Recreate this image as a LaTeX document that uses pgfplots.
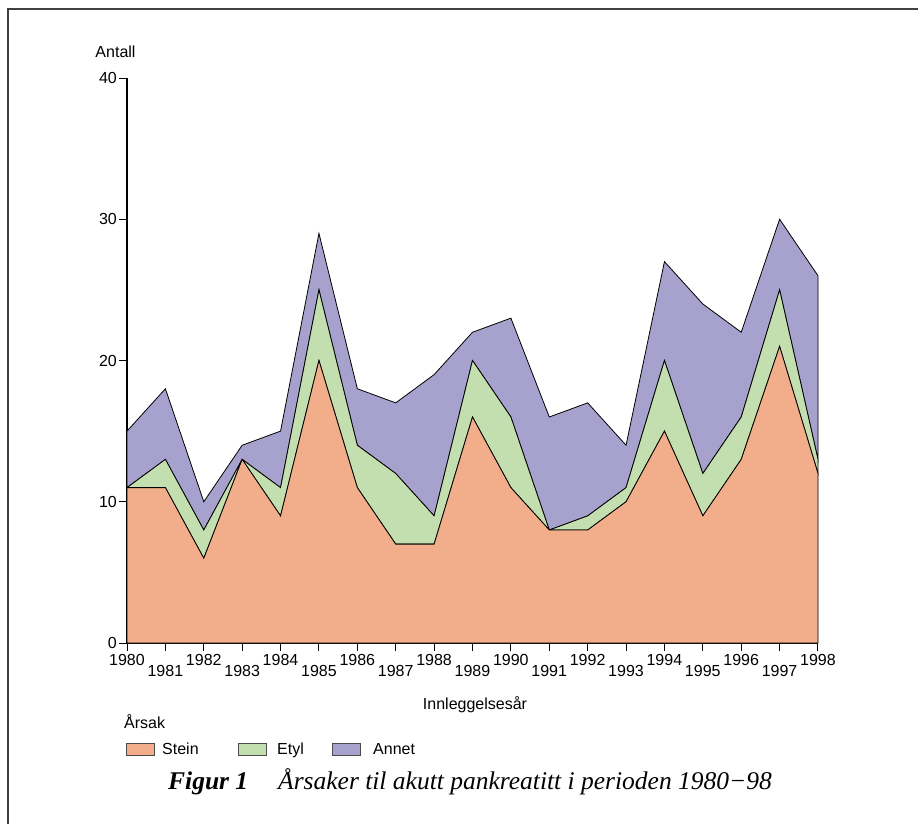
\documentclass[border=0pt]{standalone}
\usepackage{pgfplots}
\pgfplotsset{compat=1.18}
\usepackage{fontspec}
\setmainfont{Liberation Sans}
\newfontfamily\capfont{Liberation Serif}
\definecolor{stein}{HTML}{F2AE8A}
\definecolor{etyl}{HTML}{C4DFAF}
\definecolor{annet}{HTML}{A7A2CD}
\begin{document}
\begin{tikzpicture}[x=1pt,y=1pt]
\useasboundingbox (-127,-180) rectangle (791,643);
\begin{axis}[
  at={(0,0)}, anchor=south west,
  scale only axis, width=691pt, height=565pt,
  xmin=1980, xmax=1998, ymin=0, ymax=40,
  axis x line*=bottom, axis y line*=left,
  axis line style={line width=1.3pt},
  tick align=outside, major tick length=8pt,
  tick style={line width=0.9pt, black},
  xtick={1980,...,1998},
  xticklabels={1980,\raisebox{-11pt}{1981},1982,\raisebox{-11pt}{1983},1984,\raisebox{-11pt}{1985},1986,\raisebox{-11pt}{1987},1988,\raisebox{-11pt}{1989},1990,\raisebox{-11pt}{1991},1992,\raisebox{-11pt}{1993},1994,\raisebox{-11pt}{1995},1996,\raisebox{-11pt}{1997},1998},
  ytick={0,10,20,30,40},
  /pgf/number format/assume math mode=true,
  ticklabel style={font=\fontsize{16}{19}\selectfont},
  xticklabel style={inner sep=0pt, text height=11.5pt, text depth=0pt, yshift=-3pt},
  yticklabel style={inner sep=2pt},
  stack plots=y,
  every axis plot/.append style={draw=black, line width=0.8pt},
  clip=false,
]
\addplot[fill=stein] coordinates {(1980,11)(1981,11)(1982,6)(1983,13)(1984,9)(1985,20)(1986,11)(1987,7)(1988,7)(1989,16)(1990,11)(1991,8)(1992,8)(1993,10)(1994,15)(1995,9)(1996,13)(1997,21)(1998,12)} \closedcycle;
\addplot[fill=etyl] coordinates {(1980,0)(1981,2)(1982,2)(1983,0)(1984,2)(1985,5)(1986,3)(1987,5)(1988,2)(1989,4)(1990,5)(1991,0)(1992,1)(1993,1)(1994,5)(1995,3)(1996,3)(1997,4)(1998,1)} \closedcycle;
\addplot[fill=annet] coordinates {(1980,4)(1981,5)(1982,2)(1983,1)(1984,4)(1985,4)(1986,4)(1987,5)(1988,10)(1989,2)(1990,7)(1991,8)(1992,8)(1993,3)(1994,7)(1995,12)(1996,6)(1997,5)(1998,13)} \closedcycle;
\end{axis}
\draw[line width=1.5pt, black!75] (-119,-182) -- (-119,634) -- (793,634);
\node[font=\fontsize{16}{19}\selectfont] at (-11.5,591) {Antall};
\node[font=\fontsize{16}{19}\selectfont] at (348,-62) {Innleggelsesår};
\node[font=\fontsize{16}{19}\selectfont, anchor=west, inner sep=0pt] at (-3,-79) {Årsak};
\draw[fill=stein, draw=black!70, line width=0.7pt] (-1,-112) rectangle (27,-100);
\node[font=\fontsize{16}{19}\selectfont, anchor=base west, inner sep=0pt] at (35,-111.5) {Stein};
\draw[fill=etyl, draw=black!70, line width=0.7pt] (111,-112) rectangle (139,-100);
\node[font=\fontsize{16}{19}\selectfont, anchor=base west, inner sep=0pt] at (150,-111.5) {Etyl};
\draw[fill=annet, draw=black!70, line width=0.7pt] (205,-112) rectangle (233,-100);
\node[font=\fontsize{16}{19}\selectfont, anchor=base west, inner sep=0pt] at (246,-111.5) {Annet};
\node[font=\capfont\fontsize{25.5}{30}\selectfont] at (343,-139) {\textbf{\textit{Figur 1}}\hspace{30pt}\textit{Årsaker til akutt pankreatitt i perioden 1980−98}};
\end{tikzpicture}
\end{document}
